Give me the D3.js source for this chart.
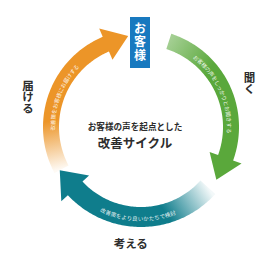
<!DOCTYPE html>
<html>
<head>
<meta charset="utf-8">
<script src="https://cdn.jsdelivr.net/npm/d3@7"></script>
<style>
  body { margin: 0; background: #fff; }
  text { font-family: "Noto Sans CJK JP", sans-serif; }
</style>
</head>
<body>
<div id="cycle"></div>
<script>
// cycle stages, clockwise from the top
var stages = ['聞く', '考える', '届ける'];
var startDeg = [18, 132, 242];
var endDeg = [125, 242, 352];
var arcTexts = ['お客様の声をしっかりとお聞きする', '改善策をより良いかたちで検討', '改善策をお客様にお届けする'];
var colors = ['#5aa83b', '#0f7d8c', '#ec9528'];
var centerTitle = ['お客様の声を起点とした', '改善サイクル'];
var topLabel = 'お客様';

var width = 257, height = 253;
var cx = 141, cy = 127;
var rMid = 90;
var halfW = [8, 10, 8];
var headDeg = 15;
var labelAngle = [68, 185, 285];

var svg = d3.select('#cycle')
			.append('svg')
			.attr('width', width)
			.attr('height', height);

var defs = svg.append('defs');

// degrees -> radians
var rad = d3.scaleLinear().domain([0, 360]).range([0, 2 * Math.PI]);
var line = d3.line();

function polar(deg, r) {
	var p = d3.pointRadial(rad(deg), r);
	return [p[0] + cx, p[1] + cy];
}

function arrowPoints(i) {
	var a0 = startDeg[i], a1 = endDeg[i], ab = a1 - headDeg;
	var rO = rMid + halfW[i], rI = rMid - halfW[i];
	var pts = [];
	d3.range(a0, ab + 0.01, 1).forEach(function(a){ pts.push(polar(a, rO)); });
	pts.push(polar(ab, rO + 9));
	pts.push(polar(a1, rMid + 2));
	pts.push(polar(ab, rI - 9));
	d3.range(ab, a0 - 0.01, -1).forEach(function(a){ pts.push(polar(a, rI)); });
	return pts;
}

// Fading gradients at the tail of each arrow, plus paths for the arc texts
stages.forEach(function(s, i){
	var p0 = polar(startDeg[i], rMid);
	var p1 = polar(startDeg[i] + 32, rMid);
	var grad = defs.append('linearGradient')
		.attr('id', 'fade' + i)
		.attr('gradientUnits', 'userSpaceOnUse')
		.attr('x1', p0[0]).attr('y1', p0[1])
		.attr('x2', p1[0]).attr('y2', p1[1]);
	grad.append('stop').attr('offset', 0).attr('stop-color', colors[i]).attr('stop-opacity', i == 0 ? 0.55 : 0.05);
	grad.append('stop').attr('offset', 1).attr('stop-color', colors[i]).attr('stop-opacity', 1);

	// bottom arc reversed so it reads left to right
	var a = d3.range(startDeg[i] + 6, endDeg[i] - headDeg - 2, 1).map(function(d){ return polar(d, rMid - 2); });
	if (i == 1) a = d3.range(endDeg[i] - headDeg - 2, startDeg[i] + 6, -1).map(function(d){ return polar(d, rMid + 2); });
	defs.append('path').attr('id', 'tp' + i).attr('d', line(a));
});

// Creates arrows
svg.selectAll('path.arrow')
	.data(stages)
	.enter()
	.append('path')
	.attr('class', 'arrow')
	.attr('d', function(d, i){ return line(arrowPoints(i)) + 'Z'; })
	.attr('fill', function(d, i){ return 'url(#fade' + i + ')'; });

// Text along arcs
stages.forEach(function(s, i){
	svg.append('text')
		.attr('font-size', 5.5)
		.attr('fill', '#fff')
		.attr('fill-opacity', 0.9)
		.attr('dy', 2)
		.append('textPath')
		.attr('href', '#tp' + i)
		.attr('startOffset', '50%')
		.attr('text-anchor', 'middle')
		.text(arcTexts[i]);
});

// Stage labels outside the ring (vertical except the bottom one)
svg.selectAll('text.stage')
	.data(stages)
	.enter()
	.append('text')
	.attr('class', 'stage')
	.attr('x', function(d, i){ return polar(labelAngle[i], 117)[0]; })
	.attr('y', function(d, i){ return polar(labelAngle[i], 117)[1]; })
	.attr('dy', function(d, i){ return i == 1 ? '0.36em' : null; })
	.attr('text-anchor', 'middle')
	.style('writing-mode', function(d, i){ return i == 1 ? null : 'vertical-rl'; })
	.attr('font-size', 11.5)
	.attr('font-weight', 'bold')
	.attr('fill', '#2d2d2d')
	.text(function(d){ return d; });

// Top box
svg.append('rect')
	.attr('x', 130).attr('y', 17)
	.attr('width', 20).attr('height', 51)
	.attr('fill', '#1879bf');
svg.append('text')
	.attr('x', 140).attr('y', 42.5)
	.attr('text-anchor', 'middle')
	.style('writing-mode', 'vertical-rl')
	.style('letter-spacing', '1.5px')
	.attr('font-size', 12)
	.attr('font-weight', 'bold')
	.attr('fill', '#fff')
	.text(topLabel);

// Center title
svg.append('text')
	.attr('x', 135).attr('y', 130)
	.attr('text-anchor', 'middle')
	.attr('font-size', 8.6)
	.attr('font-weight', 'bold')
	.attr('fill', '#2d2d2d')
	.text(centerTitle[0]);
svg.append('text')
	.attr('x', 135).attr('y', 147.5)
	.attr('text-anchor', 'middle')
	.attr('font-size', 12.5)
	.attr('font-weight', 'bold')
	.attr('fill', '#2d2d2d')
	.text(centerTitle[1]);
</script>
</body>
</html>
